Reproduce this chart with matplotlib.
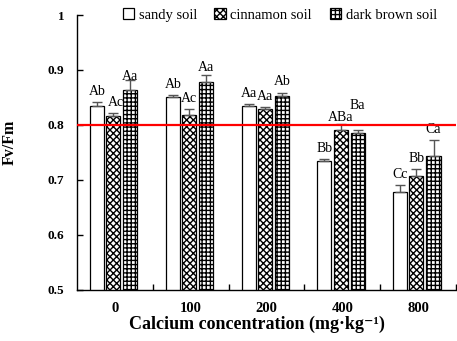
import matplotlib as mpl
import matplotlib.pyplot as plt
import numpy as np

mpl.rcParams.update({
    "font.family": ["Liberation Serif", "DejaVu Serif"],
    "hatch.linewidth": 1.0,
    "axes.linewidth": 1.0,
})

# ---------- data ----------
concentrations = ["0", "100", "200", "400", "800"]
series_names = ["sandy soil", "cinnamon soil", "dark brown soil"]

sandy = [0.835, 0.850, 0.835, 0.735, 0.678]
cinnamon = [0.816, 0.818, 0.829, 0.790, 0.708]
dark_brown = [0.863, 0.879, 0.853, 0.785, 0.743]

sandy_err = [0.007, 0.004, 0.003, 0.003, 0.012]
cinnamon_err = [0.006, 0.011, 0.004, 0.012, 0.011]
dark_brown_err = [0.018, 0.012, 0.006, 0.006, 0.029]

sandy_sig = ["Ab", "Ab", "Aa", "Bb", "Cc"]
cinnamon_sig = ["Ac", "Ac", "Aa", "ABa", "Bb"]
dark_brown_sig = ["Aa", "Aa", "Ab", "Ba", "Ca"]

threshold = 0.8

# ---------- styling ----------
HATCHES = ["", "xxxxx", "++++"]
OFFSETS = [-0.235, -0.02, 0.205]
WIDTH = 0.185
# a few letters sit off the default spot (series, group) -> (dx, dy) in points
LABEL_NUDGE = {(1, 0): (1.5, 0), (2, 0): (0, -5), (2, 1): (0, -2),
               (1, 3): (0, -3), (2, 3): (0, 10)}

values = [sandy, cinnamon, dark_brown]
errors = [sandy_err, cinnamon_err, dark_brown_err]
letters = [sandy_sig, cinnamon_sig, dark_brown_sig]

fig = plt.figure(figsize=(4.57, 3.41), dpi=100)
ax = fig.add_axes([0.1685, 0.150, 0.829, 0.806])

x = np.arange(len(concentrations))
for i, (vals, errs, name) in enumerate(zip(values, errors, series_names)):
    ax.bar(x + OFFSETS[i], vals, WIDTH, color="white", edgecolor="black",
           hatch=HATCHES[i], linewidth=0.9, label=name, zorder=2)
    ax.errorbar(x + OFFSETS[i], vals, yerr=[np.zeros(len(errs)), errs],
                fmt="none", ecolor="#555555", elinewidth=1.0, capsize=3.5,
                capthick=1.0, zorder=3)
    for j, (v, e, s) in enumerate(zip(vals, errs, letters[i])):
        dx, dy = LABEL_NUDGE.get((i, j), (0, 0))
        ax.annotate(s, xy=(x[j] + OFFSETS[i], v + e), xytext=(dx, 3 + dy),
                    textcoords="offset points", ha="center", va="bottom",
                    fontsize=10, zorder=4)

ax.axhline(threshold, color="#ff0000", lw=1.6, zorder=5)

ax.set_xlim(-0.5, len(concentrations) - 0.5)
ax.set_ylim(0.5, 1.0)
ax.set_yticks(np.arange(0.5, 1.01, 0.1))
ax.set_yticklabels(["0.5", "0.6", "0.7", "0.8", "0.9", "1"])
ax.set_xticks(x)
ax.set_xticklabels(concentrations)
ax.set_xticks(np.arange(0.5, len(concentrations), 1.0), minor=True)

ax.tick_params(axis="x", which="major", length=0, pad=9, labelsize=10.5)
ax.tick_params(axis="x", which="minor", direction="in", length=4, width=1.0)
ax.tick_params(axis="y", direction="in", length=4, width=1.0, pad=9, labelsize=9.5)
for lbl in ax.get_xticklabels() + ax.get_yticklabels():
    lbl.set_fontweight("bold")

ax.spines["top"].set_visible(False)
ax.spines["right"].set_visible(False)

ax.set_xlabel("Calcium concentration (mg·kg⁻¹)", fontsize=13, fontweight="bold")
ax.xaxis.set_label_coords(0.475, -0.095)
ax.set_ylabel("Fv/Fm", fontsize=11.5, fontweight="bold")
ax.yaxis.set_label_coords(-0.157, 0.535)

ax.legend(loc="center", bbox_to_anchor=(0.535, 1.0), ncol=3, frameon=False,
          fontsize=10.5, handlelength=0.8, handleheight=0.8, handletextpad=0.3,
          columnspacing=1.2, borderpad=0)

fig.savefig("out.png", dpi=100)
